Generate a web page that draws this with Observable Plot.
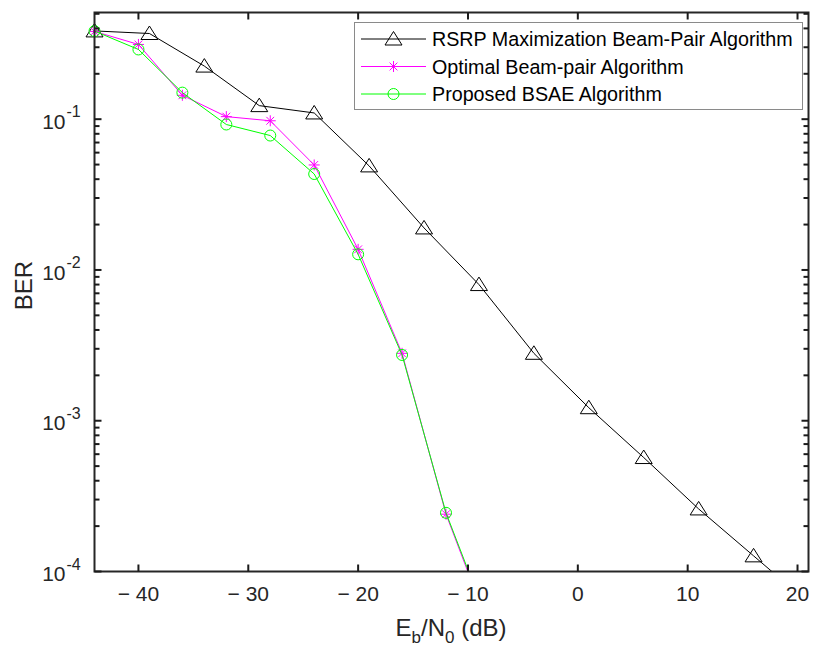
<!DOCTYPE html>
<html><head><meta charset="utf-8">
<script src="https://cdn.jsdelivr.net/npm/d3@7"></script>
<script src="https://cdn.jsdelivr.net/npm/@observablehq/plot@0.6"></script>
<style>body{margin:0;background:#fff} svg{display:block}</style>
</head><body><div id="chart"></div>
<script>
const seriesNames = ["RSRP Maximization Beam-Pair Algorithm", "Optimal Beam-pair Algorithm", "Proposed BSAE Algorithm"];
const seriesColors = ["#000000", "#ff00ff", "#00ff00"];
const rsrpX = [-44, -39, -34, -29, -24, -19, -14, -9, -4, 1, 6, 11, 16, 21];
const rsrpBER = [0.385, 0.37, 0.225, 0.123, 0.110, 0.049, 0.019, 0.0080, 0.0028, 0.00122, 0.00057, 0.00026, 0.000127, 0.000062];
const optX = [-44, -40, -36, -32, -28, -24, -20, -16, -12, -8];
const optBER = [0.382, 0.313, 0.144, 0.104, 0.0976, 0.0497, 0.0137, 0.0028, 0.00024, 0.000041];
const bsaeX = [-44, -40, -36, -32, -28, -24, -20, -16, -12, -8];
const bsaeBER = [0.384, 0.290, 0.150, 0.0922, 0.0779, 0.0433, 0.0127, 0.00273, 0.000245, 0.000043];
const xTicks = [-40, -30, -20, -10, 0, 10, 20];
const yTicks = [1e-4, 1e-3, 1e-2, 1e-1];
const yTickExp = ["-4", "-3", "-2", "-1"];
const yMinorTicks = [];
for (const dec of [1e-4, 1e-3, 1e-2, 1e-1]) for (const m of [2,3,4,5,6,7,8,9]) if (m*dec <= 0.5) yMinorTicks.push(m*dec);

const W = 813, H = 646;
const mL = 94, mR = 5, mT = 12, mB = 75;
const innerW = W - mL - mR, innerH = H - mT - mB;
const axisColor = "#262626";
const font = "'Liberation Sans', Arial, Helvetica, sans-serif";

// custom MATLAB-like markers
const triangleSym = {draw(ctx) { ctx.moveTo(0, -7.5); ctx.lineTo(8.5, 6); ctx.lineTo(-8.5, 6); ctx.closePath(); }};
const circleSym = {draw(ctx) { ctx.moveTo(5.5, 0); ctx.arc(0, 0, 5.5, 0, 2 * Math.PI); }};
const starSym = {draw(ctx) {
  const a = 5.5, b = a * Math.SQRT1_2;
  ctx.moveTo(-a, 0); ctx.lineTo(a, 0);
  ctx.moveTo(0, -a); ctx.lineTo(0, a);
  ctx.moveTo(-b, -b); ctx.lineTo(b, b);
  ctx.moveTo(-b, b); ctx.lineTo(b, -b);
}};
const symbols = [triangleSym, starSym, circleSym];

const rows = (name, xs, ys) => xs.map((x, i) => ({series: name, x, ber: ys[i]}));
const data = [rows(seriesNames[0], rsrpX, rsrpBER), rows(seriesNames[1], optX, optBER), rows(seriesNames[2], bsaeX, bsaeBER)];

const marks = [];
data.forEach((d, i) => {
  marks.push(Plot.line(d, {x: "x", y: "ber", stroke: seriesColors[i], strokeWidth: 1, clip: true}));
  marks.push(Plot.dot(d, {x: "x", y: "ber", filter: r => r.ber >= 1e-4, symbol: symbols[i], r: 5, stroke: seriesColors[i], strokeWidth: 1, fill: "none"}));
});

// inward ticks: a short line from the frame edge, positioned by Plot's scales
const tickSym = (dx, dy) => ({draw(ctx) { ctx.moveTo(0, 0); ctx.lineTo(dx, dy); }});
const tk = {stroke: "#1a1a1a", strokeWidth: 2, fill: "none", r: 5};

const chart = Plot.plot({
  width: W, height: H,
  marginLeft: mL, marginRight: mR, marginTop: mT, marginBottom: mB,
  style: {fontFamily: font, color: axisColor, background: "#fff", overflow: "visible"},
  x: {domain: [-44, 21], label: null},
  y: {type: "log", domain: [1e-4, 0.51], label: null},
  marks: [
    Plot.axisX(xTicks, {tickSize: 0, tickPadding: 15, fontSize: 21, fill: axisColor,
      tickFormat: d => d < 0 ? "\u2212 " + (-d) : String(d), label: null}),
    Plot.axisY(yTicks, {tickSize: 0, tickPadding: 29, fontSize: 21, fill: axisColor, dy: 3,
      tickFormat: () => "10", label: null}),
    Plot.axisY(yTicks, {tickSize: 0, tickPadding: 28, fontSize: 16, fill: axisColor, dy: -7, textAnchor: "start",
      tickFormat: d => yTickExp[yTicks.indexOf(d)], label: null}),
    ...marks,
    Plot.frame({stroke: axisColor, strokeWidth: 2}),
    Plot.dot(xTicks, {x: d => d, frameAnchor: "bottom", symbol: tickSym(0, -7), ...tk}),
    Plot.dot(xTicks, {x: d => d, frameAnchor: "top", symbol: tickSym(0, 7), ...tk}),
    Plot.dot(yTicks, {y: d => d, frameAnchor: "left", symbol: tickSym(7, 0), ...tk}),
    Plot.dot(yTicks, {y: d => d, frameAnchor: "right", symbol: tickSym(-7, 0), ...tk}),
    Plot.dot(yMinorTicks, {y: d => d, frameAnchor: "left", symbol: tickSym(5, 0), ...tk}),
    Plot.dot(yMinorTicks, {y: d => d, frameAnchor: "right", symbol: tickSym(-5, 0), ...tk})
  ]
});

document.getElementById("chart").appendChild(chart);
const svg = d3.select(chart);

// x label with subscripts
const xl = svg.append("text")
  .attr("x", mL + innerW / 2).attr("y", 636)
  .attr("text-anchor", "middle")
  .attr("font-family", font).attr("font-size", 24).attr("fill", axisColor);
xl.append("tspan").text("E");
xl.append("tspan").attr("dy", 7).attr("font-size", 17).text("b");
xl.append("tspan").attr("dy", -7).text("/N");
xl.append("tspan").attr("dy", 7).attr("font-size", 17).text("0");
xl.append("tspan").attr("dy", -7).text(" (dB)");

// y label
svg.append("text")
  .attr("transform", `translate(32,${mT + innerH / 2 - 6}) rotate(-90)`)
  .attr("text-anchor", "middle")
  .attr("font-family", font).attr("font-size", 24).attr("fill", axisColor)
  .text("BER");

// legend
const lg = svg.append("g");
lg.append("rect").attr("x", 354.5).attr("y", 22.5).attr("width", 448).attr("height", 87)
  .attr("fill", "#fff").attr("stroke", "#8a8a8a").attr("stroke-width", 1);
const rowY = [39, 66.5, 94];
seriesNames.forEach((name, i) => {
  lg.append("line").attr("x1", 361).attr("x2", 426).attr("y1", rowY[i]).attr("y2", rowY[i])
    .attr("stroke", seriesColors[i]).attr("stroke-width", 1);
  lg.append("path").attr("d", d3.symbol(symbols[i])()).attr("transform", `translate(393.5,${rowY[i]})`)
    .attr("fill", "none").attr("stroke", seriesColors[i]).attr("stroke-width", 1);
  lg.append("text").attr("x", 432).attr("y", rowY[i] + 7).attr("text-anchor", "start")
    .attr("font-family", font).attr("font-size", 19.7).attr("fill", "#000").text(name);
});
</script>
</body></html>
